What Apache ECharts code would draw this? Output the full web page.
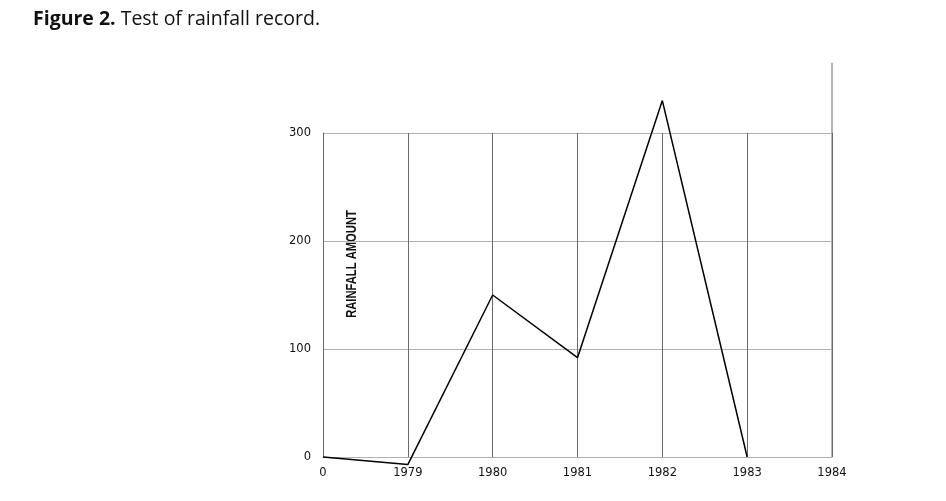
<!DOCTYPE html>
<html>
<head>
<meta charset="utf-8">
<script src="https://cdn.jsdelivr.net/npm/echarts@6/dist/echarts.min.js"></script>
<style>
  html, body { margin: 0; padding: 0; background: #fff; }
  #chart { width: 946px; height: 501px; }
</style>
</head>
<body>
<div id="chart"></div>
<script>
// values
const years = ['0', '1979', '1980', '1981', '1982', '1983', '1984']
const rainfall = [0, -7, 150, 92, 330, 0, null]
const yTicks = [0, 100, 200, 300]
const topLineValue = 365

const chart = echarts.init(document.getElementById('chart'))

const axisName = {
  type: 'text',
  x: 352,
  y: 264,
  rotation: Math.PI / 2,
  scaleX: 0.8,
  style: {
    text: 'RAINFALL AMOUNT',
    fontFamily: 'Liberation Sans',
    fontSize: 14,
    fontWeight: 'bold',
    fill: '#111',
    textAlign: 'center',
    textVerticalAlign: 'middle',
  },
}

chart.setOption({
  animation: false,
  title: {
    left: 28,
    top: 4,
    text: '{b|Figure 2.} {n|Test of rainfall record.}',
    textStyle: {
      rich: {
        b: { fontFamily: 'Open Sans', fontSize: 19.5, fontWeight: 'bold', color: '#111' },
        n: { fontFamily: 'Open Sans', fontSize: 19.5, fontWeight: 'normal', color: '#111' },
      },
    },
  },
  grid: {
    left: 323,
    right: 114,
    top: 133,
    bottom: 44,
  },
  xAxis: {
    type: 'category',
    data: years,
    boundaryGap: false,
    axisTick: { show: false },
    axisLine: { lineStyle: { color: '#b0b0b0', width: 1 } },
    axisLabel: {
      margin: 10,
      fontFamily: 'DejaVu Sans',
      fontSize: 11.5,
      color: '#111',
    },
    splitLine: {
      show: true,
      lineStyle: { color: '#6a6a6a', width: 1 },
    },
  },
  yAxis: {
    type: 'value',
    min: yTicks[0],
    max: yTicks[yTicks.length - 1],
    interval: 100,
    axisTick: { show: false },
    axisLine: { show: true, lineStyle: { color: '#6a6a6a', width: 1 } },
    axisLabel: {
      margin: 12,
      fontFamily: 'DejaVu Sans',
      fontSize: 11.5,
      color: '#111',
    },
    splitLine: {
      show: true,
      lineStyle: { color: '#b0b0b0', width: 1 },
    },
  },
  graphic: [axisName],
  series: [{
    type: 'line',
    data: rainfall,
    clip: false,
    symbol: 'none',
    lineStyle: { color: '#000', width: 1.5 },
  }],
})

// the 1984 grid line runs above the top of the plot in the figure
const lineBottom = chart.convertToPixel({ gridIndex: 0 }, [years[6], yTicks[0]])
const lineTop = chart.convertToPixel({ gridIndex: 0 }, [years[6], topLineValue])
chart.setOption({
  graphic: [axisName, {
    type: 'line',
    silent: true,
    shape: {
      x1: lineBottom[0], y1: lineBottom[1],
      x2: lineTop[0], y2: lineTop[1],
    },
    style: { stroke: '#6a6a6a', lineWidth: 1 },
  }],
})
</script>
</body>
</html>
